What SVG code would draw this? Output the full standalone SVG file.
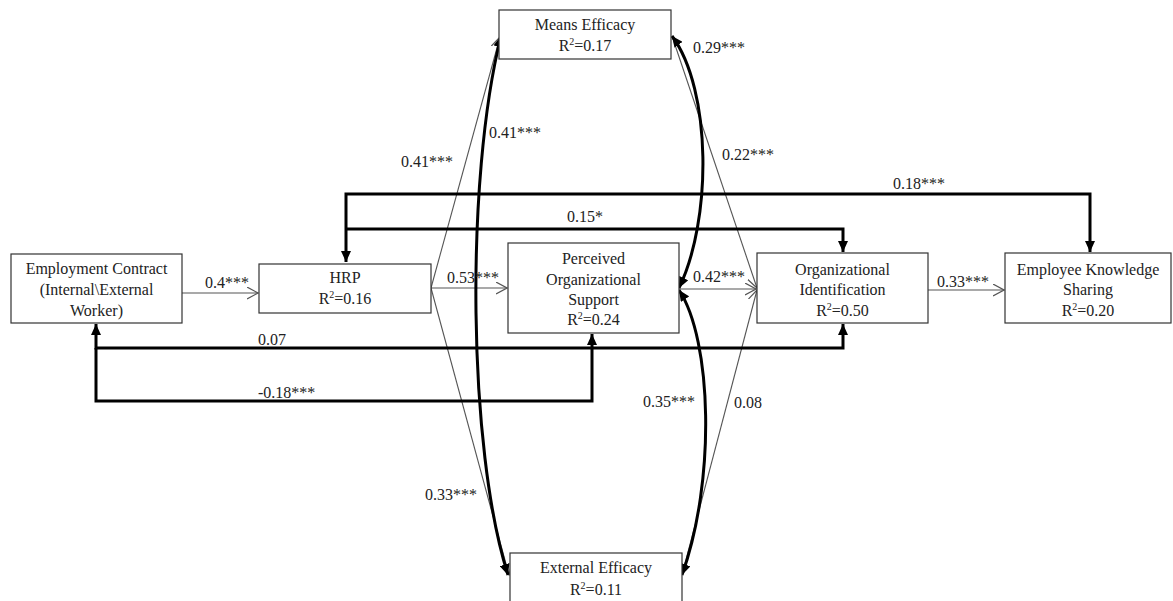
<svg xmlns="http://www.w3.org/2000/svg" width="1173" height="601" viewBox="0 0 1173 601">
<defs>
<style>
.box{fill:#fff;stroke:#333;stroke-width:1.2}
.t{font-family:"Liberation Serif","Times New Roman",serif;font-size:16px;fill:#222;text-anchor:middle}
.lab{font-family:"Liberation Serif","Times New Roman",serif;font-size:16px;fill:#222}
.thin{fill:none;stroke:#555;stroke-width:1.1}
.thick{fill:none;stroke:#000;stroke-width:3}
.sup{font-size:10px}
</style>
<marker id="open" markerUnits="userSpaceOnUse" markerWidth="12" markerHeight="14" refX="11" refY="6.5" orient="auto" viewBox="0 0 12 14">
<path d="M0,0.5 L11,6.5 L0,12.5" fill="none" stroke="#555" stroke-width="1.2"/>
</marker>
<marker id="solid" markerUnits="userSpaceOnUse" markerWidth="12" markerHeight="10" refX="11" refY="5" orient="auto-start-reverse" viewBox="0 0 12 10">
<path d="M0,0 L11,5 L0,10 Z" fill="#000"/>
</marker>
</defs>
<rect width="1173" height="601" fill="#fff"/>

<g id="connectors">
<!-- thin paths -->
<path class="thin" d="M182,293 L258,293" marker-end="url(#open)"/>
<path class="thin" d="M431,288 L507,288" marker-end="url(#open)"/>
<path class="thin" d="M431,288 L500,37" marker-end="url(#open)"/>
<path class="thin" d="M431,288 L509,575" marker-end="url(#open)"/>
<path class="thin" d="M672,36 L757,288" marker-end="url(#open)"/>
<path class="thin" d="M682,575 L757,290" marker-end="url(#open)"/>
<path class="thin" d="M679,289 L756,289" marker-end="url(#open)"/>
<path class="thin" d="M928,290 L1004,290" marker-end="url(#open)"/>
<!-- thick orthogonal paths -->
<path class="thick" d="M346,262 V194 H1090 V252" marker-start="url(#solid)" marker-end="url(#solid)"/>
<path class="thick" d="M346,229 H843 V252" marker-end="url(#solid)"/>
<path class="thick" d="M96,324 V348 H843 V324" marker-start="url(#solid)" marker-end="url(#solid)"/>
<path class="thick" d="M96,348 V401 H592 V334" marker-end="url(#solid)"/>
<!-- correlations (curved, double-headed) -->
<path class="thick" d="M501,36 C465,180 468,450 508,575" marker-start="url(#solid)" marker-end="url(#solid)"/>
<path class="thick" d="M672,36 C712,90 712,220 679,288" marker-start="url(#solid)" marker-end="url(#solid)"/>
<path class="thick" d="M679,290 C712,340 716,480 682,575" marker-start="url(#solid)" marker-end="url(#solid)"/>
<!-- labels -->
<text class="lab" x="205" y="288">0.4***</text>
<text class="lab" x="447" y="283">0.53***</text>
<text class="lab" x="401" y="167">0.41***</text>
<text class="lab" x="489" y="138">0.41***</text>
<text class="lab" x="567" y="222">0.15*</text>
<text class="lab" x="893" y="189">0.18***</text>
<text class="lab" x="693" y="53">0.29***</text>
<text class="lab" x="722" y="160">0.22***</text>
<text class="lab" x="693" y="282">0.42***</text>
<text class="lab" x="937" y="287">0.33***</text>
<text class="lab" x="258" y="345">0.07</text>
<text class="lab" x="258" y="398">-0.18***</text>
<text class="lab" x="643" y="407">0.35***</text>
<text class="lab" x="734" y="408">0.08</text>
<text class="lab" x="425" y="500">0.33***</text>
</g>

<g id="employment-contract">
<rect class="box" x="11" y="254" width="171" height="69"/>
<text class="t" x="96.5" y="274">Employment Contract</text>
<text class="t" x="96.5" y="295">(Internal\External</text>
<text class="t" x="96.5" y="316">Worker)</text>
</g>

<g id="hrp">
<rect class="box" x="259" y="264" width="172" height="49"/>
<text class="t" x="345" y="283">HRP</text>
<text class="t" x="345" y="304">R<tspan class="sup" dy="-6">2</tspan><tspan dy="6">=0.16</tspan></text>
</g>

<g id="means-efficacy">
<rect class="box" x="499" y="10" width="172" height="49"/>
<text class="t" x="585" y="30">Means Efficacy</text>
<text class="t" x="585" y="51">R<tspan class="sup" dy="-6">2</tspan><tspan dy="6">=0.17</tspan></text>
</g>

<g id="pos">
<rect class="box" x="508" y="243" width="171" height="90"/>
<text class="t" x="593.5" y="264">Perceived</text>
<text class="t" x="593.5" y="285">Organizational</text>
<text class="t" x="593.5" y="305">Support</text>
<text class="t" x="593.5" y="325">R<tspan class="sup" dy="-6">2</tspan><tspan dy="6">=0.24</tspan></text>
</g>

<g id="org-identification">
<rect class="box" x="757" y="253" width="171" height="70"/>
<text class="t" x="842.5" y="275">Organizational</text>
<text class="t" x="842.5" y="295">Identification</text>
<text class="t" x="842.5" y="316">R<tspan class="sup" dy="-6">2</tspan><tspan dy="6">=0.50</tspan></text>
</g>

<g id="knowledge-sharing">
<rect class="box" x="1005" y="253" width="166" height="70"/>
<text class="t" x="1088" y="275">Employee Knowledge</text>
<text class="t" x="1088" y="295">Sharing</text>
<text class="t" x="1088" y="316">R<tspan class="sup" dy="-6">2</tspan><tspan dy="6">=0.20</tspan></text>
</g>

<g id="external-efficacy">
<rect class="box" x="510" y="553" width="172" height="60"/>
<text class="t" x="596" y="573">External Efficacy</text>
<text class="t" x="596" y="595">R<tspan class="sup" dy="-6">2</tspan><tspan dy="6">=0.11</tspan></text>
</g>
</svg>
